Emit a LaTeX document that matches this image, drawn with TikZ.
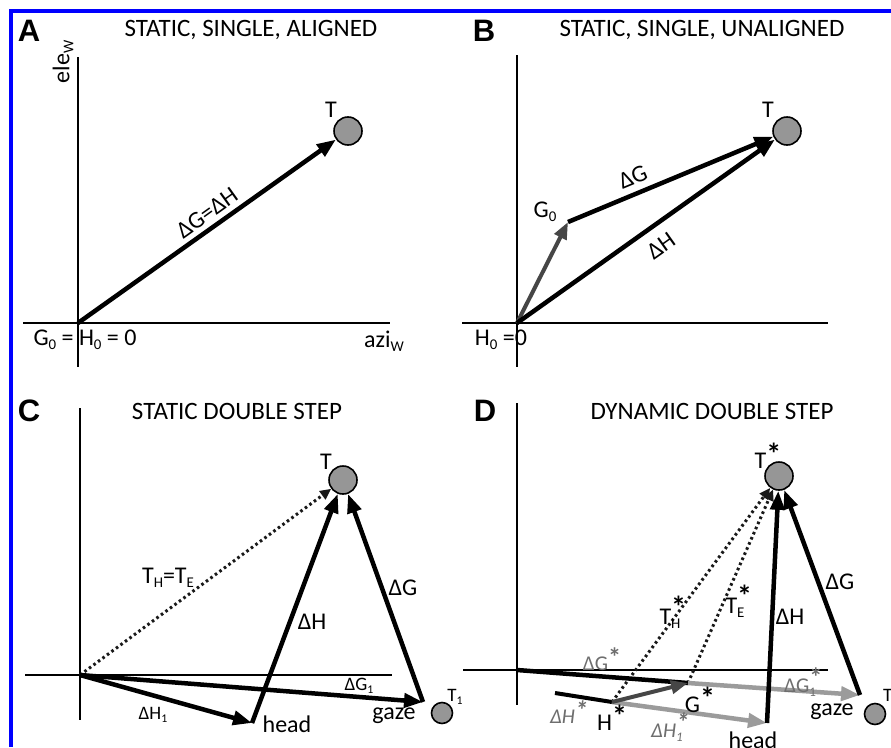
\documentclass[tikz,border=0pt]{standalone}
\usepackage{fontspec}
\setmainfont{Carlito}
\newfontfamily\lettfont{Liberation Sans}
\usepackage{graphicx}
\usetikzlibrary{arrows.meta}
\definecolor{cfill}{RGB}{150,150,150}
\definecolor{lgray}{RGB}{155,155,155}
\definecolor{dgray}{RGB}{70,70,70}
\definecolor{tgray}{RGB}{110,110,110}
\definecolor{frameblue}{RGB}{0,0,255}
\newcommand{\sbx}[1]{\raisebox{-0.35ex}{\scalebox{0.62}{#1}}}
\newcommand{\stx}{\raisebox{0.35ex}{\bfseries\scalebox{1.25}{*}}}
\newcommand{\stl}{\rlap{\raisebox{0.6ex}{\bfseries\scalebox{1.25}{*}}}}
\begin{document}
\begin{tikzpicture}[x=1pt,y=-1pt,
  axisline/.style={line width=2pt},
  vec/.style={line width=4.5pt,-{Triangle[length=19pt,width=14pt]}},
  gvec/.style={line width=4.5pt,lgray,-{Triangle[length=19pt,width=14pt]}},
  dvec/.style={line width=4pt,dgray,-{Triangle[length=17pt,width=13pt]}},
  dotvec/.style={line width=3pt,dash pattern=on 2.6pt off 3pt,-{Triangle[length=11pt,width=10pt]},black!90},
  tcirc/.style={circle,draw,line width=1.6pt,fill=cfill,minimum size=28pt,inner sep=0pt},
  scirc/.style={circle,draw,line width=1.6pt,fill=cfill,minimum size=21pt,inner sep=0pt},
  ttl/.style={font=\fontsize{25}{30}\selectfont,inner sep=0pt},
  lbl/.style={font=\fontsize{24}{28}\selectfont,inner sep=0pt},
  sml/.style={font=\fontsize{19}{22}\selectfont,inner sep=0pt},
  glbl/.style={font=\fontsize{21}{24}\selectfont,inner sep=0pt,text=tgray},
  letter/.style={font=\lettfont\bfseries\fontsize{31}{36}\selectfont,inner sep=0pt}
]
\clip (0,0) rectangle (891,747);
\fill[white] (0,0) rectangle (891,747);
% blue frame
\draw[frameblue,line width=4pt] (11,747) -- (11,11) -- (891,11);

% ---------------- Panel A
\node[letter] (lA) at (29,31) {A};
\node[ttl] (tA) at (251,30) {STATIC, SINGLE, ALIGNED};
\coordinate (aAt) at (78,57);
\coordinate (aAb) at (78,367);
\coordinate (aAl) at (23,323);
\coordinate (aAr) at (390,323);
\draw[axisline] (aAt) -- (aAb);
\draw[axisline] (aAl) -- (aAr);
\coordinate (oA) at (78,323);
\node[tcirc] (TA) at (348,131) {};
\node[lbl] (TAl) at (331,110) {T};
\draw[vec] (oA) -- (TA);
\node[lbl,rotate=35.6] (dA) at (207,213) {ΔG=ΔH};
\node[lbl,rotate=90] (eleA) at (63,62) {ele\sbx{W}};
\node[lbl] (g0A) at (85,340) {G\sbx{0} = H\sbx{0} = 0};
\node[lbl] (aziA) at (384,341) {azi\sbx{W}};

% ---------------- Panel B
\node[letter] (lB) at (484,31) {B};
\node[ttl] (tB) at (702,30) {STATIC, SINGLE, UNALIGNED};
\coordinate (aBt) at (517,55);
\coordinate (aBb) at (517,367);
\coordinate (aBl) at (462,323);
\coordinate (aBr) at (828,323);
\draw[axisline] (aBt) -- (aBb);
\draw[axisline] (aBl) -- (aBr);
\coordinate (oB) at (517,323);
\node[tcirc] (TB) at (787,131) {};
\node[lbl] (TBl) at (768,110) {T};
\coordinate (G0) at (568,222);
\draw[dvec] (oB) -- (G0);
\draw[vec] (G0) -- (TB);
\draw[vec] (oB) -- (TB);
\node[lbl] (G0l) at (545,212) {G\sbx{0}};
\node[lbl,rotate=22.6] (dGB) at (633,177) {ΔG};
\node[lbl,rotate=35.4] (dHB) at (661,246) {ΔH};
\node[lbl] (h0B) at (501,340) {H\sbx{0} =0};

% ---------------- Panel C
\node[letter] (lC) at (29,411) {C};
\node[ttl] (tC) at (237,411) {STATIC DOUBLE STEP};
\coordinate (aCt) at (80,408);
\coordinate (aCb) at (80,720);
\coordinate (aCl) at (25,675);
\coordinate (aCr) at (392,675);
\draw[axisline] (aCt) -- (aCb);
\draw[axisline] (aCl) -- (aCr);
\coordinate (oC) at (80,675);
\node[tcirc] (TC) at (343,480) {};
\node[lbl] (TCl) at (326,462) {T};
\coordinate (headC) at (252,723);
\coordinate (gazeC) at (423,702);
\node[scirc] (T1C) at (442,713) {};
\node[sml] (T1Cl) at (455,697) {T\sbx{1}};
\draw[dotvec] (oC) -- (TC);
\draw[vec] (oC) -- (headC);
\draw[vec] (oC) -- (gazeC);
\draw[vec] (headC) -- (TC);
\draw[vec] (gazeC) -- (TC);
\node[lbl] (thC) at (168,578) {T\sbx{H}=T\sbx{E}};
\node[lbl] (dHC) at (312,622) {ΔH};
\node[lbl] (dGC) at (403,588) {ΔG};
\node[sml] (dG1C) at (359,686) {ΔG\sbx{1}};
\node[sml] (dH1C) at (153,715) {ΔH\sbx{1}};
\node[lbl] (headCl) at (287,724) {head};
\node[lbl] (gazeCl) at (394,716) {gaze};

% ---------------- Panel D
\node[letter] (lD) at (485,411) {D};
\node[ttl] (tD) at (712,411) {DYNAMIC DOUBLE STEP};
\coordinate (aDt) at (517,403);
\coordinate (aDb) at (517,705);
\coordinate (aDl) at (463,670);
\coordinate (aDr) at (828,670);
\draw[axisline] (aDt) -- (aDb);
\draw[axisline] (aDl) -- (aDr);
\coordinate (oD) at (517,670);
\node[tcirc] (TD) at (779,476) {};
\node[lbl] (TDl) at (768,456) {T\stx};
\coordinate (headD) at (767,723);
\coordinate (gazeD) at (860,695);
\coordinate (Hs) at (612,702);
\coordinate (Gs) at (688,683);
\coordinate (dHs) at (555,693);
\node[scirc] (T1D) at (875,714) {};
\node[sml,anchor=west] (T1Dl) at (883,697) {T\sbx{1}};
\draw[dotvec] (Hs) -- (TD);
\draw[dotvec] (Gs) -- (TD);
\draw[line width=4.5pt] (oD) -- (Gs);
\draw[line width=4pt] (dHs) -- (Hs);
\draw[gvec] (Gs) -- (gazeD);
\draw[gvec] (Hs) -- (headD);
\draw[dvec] (Hs) -- (Gs);
\draw[vec] (headD) -- (TD);
\draw[vec] (gazeD) -- (TD);
\node[lbl] (thD) at (670,612) {T\stl\sbx{H}};
\node[lbl] (teD) at (735,601) {T\stl\sbx{E}};
\node[lbl] (dHD) at (790,617) {ΔH};
\node[lbl] (dGD) at (840,582) {ΔG};
\node[glbl] (dGsD) at (602,659) {ΔG\stx};
\node[glbl] (dG1sD) at (800,682) {ΔG\stl\sbx{1}};
\node[lbl] (GsL) at (700,700) {G\stx};
\node[lbl] (HsL) at (612,718) {H\stx};
\node[glbl] (dHsD) at (569,712) {\itshape ΔH\stx};
\node[glbl] (dH1sD) at (667,727) {\itshape ΔH\stl\sbx{1}};
\node[lbl] (headDl) at (753,740) {head};
\node[lbl] (gazeDl) at (832,712) {gaze};
\end{tikzpicture}
\end{document}
